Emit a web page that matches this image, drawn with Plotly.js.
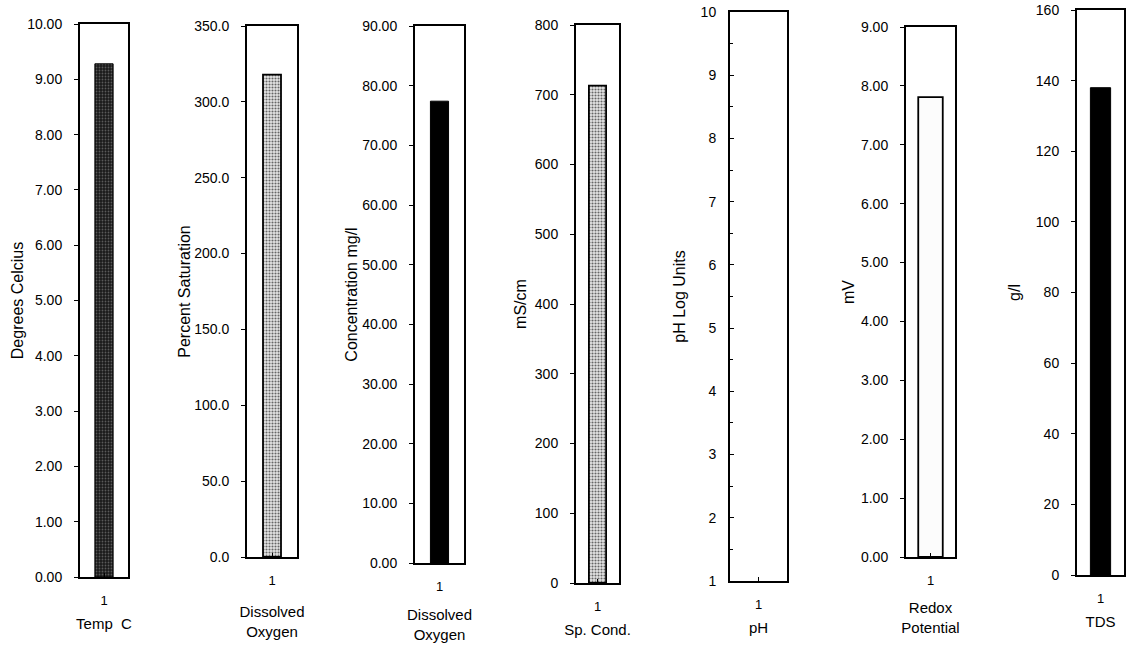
<!DOCTYPE html>
<html>
<head>
<meta charset="utf-8">
<script src="https://cdn.plot.ly/plotly-3.0.1.min.js"></script>
<style>html,body{margin:0;padding:0;background:#fff}#chart{width:1130px;height:662px}</style>
</head>
<body>
<div id="chart"></div>
<script>
// ---- data ----
const categories = ['1'];
const panelNames = ['Temp&nbsp;&nbsp;C', 'Dissolved<br>Oxygen', 'Dissolved<br>Oxygen', 'Sp. Cond.', 'pH', 'Redox<br>Potential', 'TDS'];
const yTitles = ['Degrees Celcius', 'Percent Saturation', 'Concentration mg/l', 'mS/cm', 'pH Log Units', 'mV', 'g/l'];
const tempC = [9.28];
const doSaturation = [318];
const doConcentration = [77.4];
const spCond = [713];
const pH = [0];
const redox = [7.81];
const tds = [138];

// ---- layout config (pixel boxes of each panel) ----
const W = 1130, H = 662;
const boxes = [
  {x0: 80,  x1: 128,  y0: 24, y1: 577},
  {x0: 247, x1: 297,  y0: 26, y1: 557},
  {x0: 415, x1: 464,  y0: 26, y1: 563},
  {x0: 576, x1: 619,  y0: 25, y1: 583},
  {x0: 730, x1: 787,  y0: 12, y1: 581},
  {x0: 906, x1: 955,  y0: 27, y1: 557},
  {x0: 1077, x1: 1124, y0: 10, y1: 575}
];
const seriesValues = [tempC, doSaturation, doConcentration, spCond, pH, redox, tds];
const yRanges = [[0,10],[0,350],[0,90],[0,800],[1,10],[0,9],[0,160]];
const dticks = [1, 50, 10, 100, 1, 1, 20];
const tickFormats = ['.2f', '.1f', '.2f', 'd', 'd', '.2f', 'd'];
const barWidths = [0.38, 0.36, 0.37, 0.4, 0.4, 0.5, 0.43];
const yStandoffs = [0, 0, 1, 4, 11, 2, 11];
const xStandoffs = [12, 20, 17, 12, 12, 16, 12];
const markers = [
  {color: '#1a1a1a', line: {color: '#000', width: 1}, pattern: {shape: '.', bgcolor: '#1a1a1a', fgcolor: '#5a5a5a', size: 3, solidity: 0.3}},
  {color: '#fff', line: {color: '#000', width: 1.8}, pattern: {shape: '.', bgcolor: '#e6e6e6', fgcolor: '#666', size: 3, solidity: 0.4}},
  {color: '#000', line: {color: '#000', width: 1}},
  {color: '#fff', line: {color: '#000', width: 1.8}, pattern: {shape: '.', bgcolor: '#e6e6e6', fgcolor: '#666', size: 3, solidity: 0.4}},
  {color: '#fff', line: {color: '#000', width: 1.8}},
  {color: '#fcfcfc', line: {color: '#000', width: 1.8}},
  {color: '#000', line: {color: '#000', width: 1}}
];

const font = {family: 'Arial, "Liberation Sans", Helvetica, sans-serif', size: 14, color: '#000'};
const traces = [];
const layout = {
  width: W, height: H,
  margin: {l: 0, r: 0, t: 0, b: 0},
  paper_bgcolor: '#fff', plot_bgcolor: '#fff',
  showlegend: false,
  font: font
};

boxes.forEach((b, i) => {
  const n = i === 0 ? '' : String(i + 1);
  traces.push({
    type: 'bar',
    x: categories,
    y: seriesValues[i],
    base: 0,
    width: barWidths[i],
    xaxis: 'x' + n,
    yaxis: 'y' + n,
    marker: markers[i],
    hoverinfo: 'y'
  });
  layout['xaxis' + n] = {
    domain: [b.x0 / W, b.x1 / W],
    anchor: 'y' + n,
    type: 'category',
    range: [-0.5, 0.5],
    showline: true, mirror: true, linecolor: '#000', linewidth: 2,
    showgrid: false, zeroline: false,
    ticks: 'inside', ticklen: 4, tickcolor: '#000',
    ticklabelstandoff: 10,
    tickfont: {size: 13, color: '#000'},
    title: {text: panelNames[i], font: {size: 15, color: '#000'}, standoff: xStandoffs[i]},
    fixedrange: true
  };
  layout['yaxis' + n] = {
    domain: [1 - b.y1 / H, 1 - b.y0 / H],
    anchor: 'x' + n,
    range: yRanges[i],
    dtick: dticks[i],
    tick0: yRanges[i][0],
    tickformat: tickFormats[i],
    showline: true, mirror: true, linecolor: '#000', linewidth: 2,
    showgrid: false, zeroline: false,
    ticks: i === 4 ? 'inside' : 'outside', ticklen: 4, tickcolor: '#000',
    ticklabelstandoff: 9,
    tickfont: {size: 14, color: '#000'},
    title: {text: yTitles[i], font: {size: 16, color: '#000'}, standoff: yStandoffs[i]},
    fixedrange: true
  };
  if (i === 4) {
    layout['yaxis' + n].minor = {dtick: 0.5, ticks: 'inside', ticklen: 3, tickcolor: '#000'};
  }
});

Plotly.newPlot('chart', traces, layout, {displayModeBar: false, staticPlot: true});
</script>
</body>
</html>
